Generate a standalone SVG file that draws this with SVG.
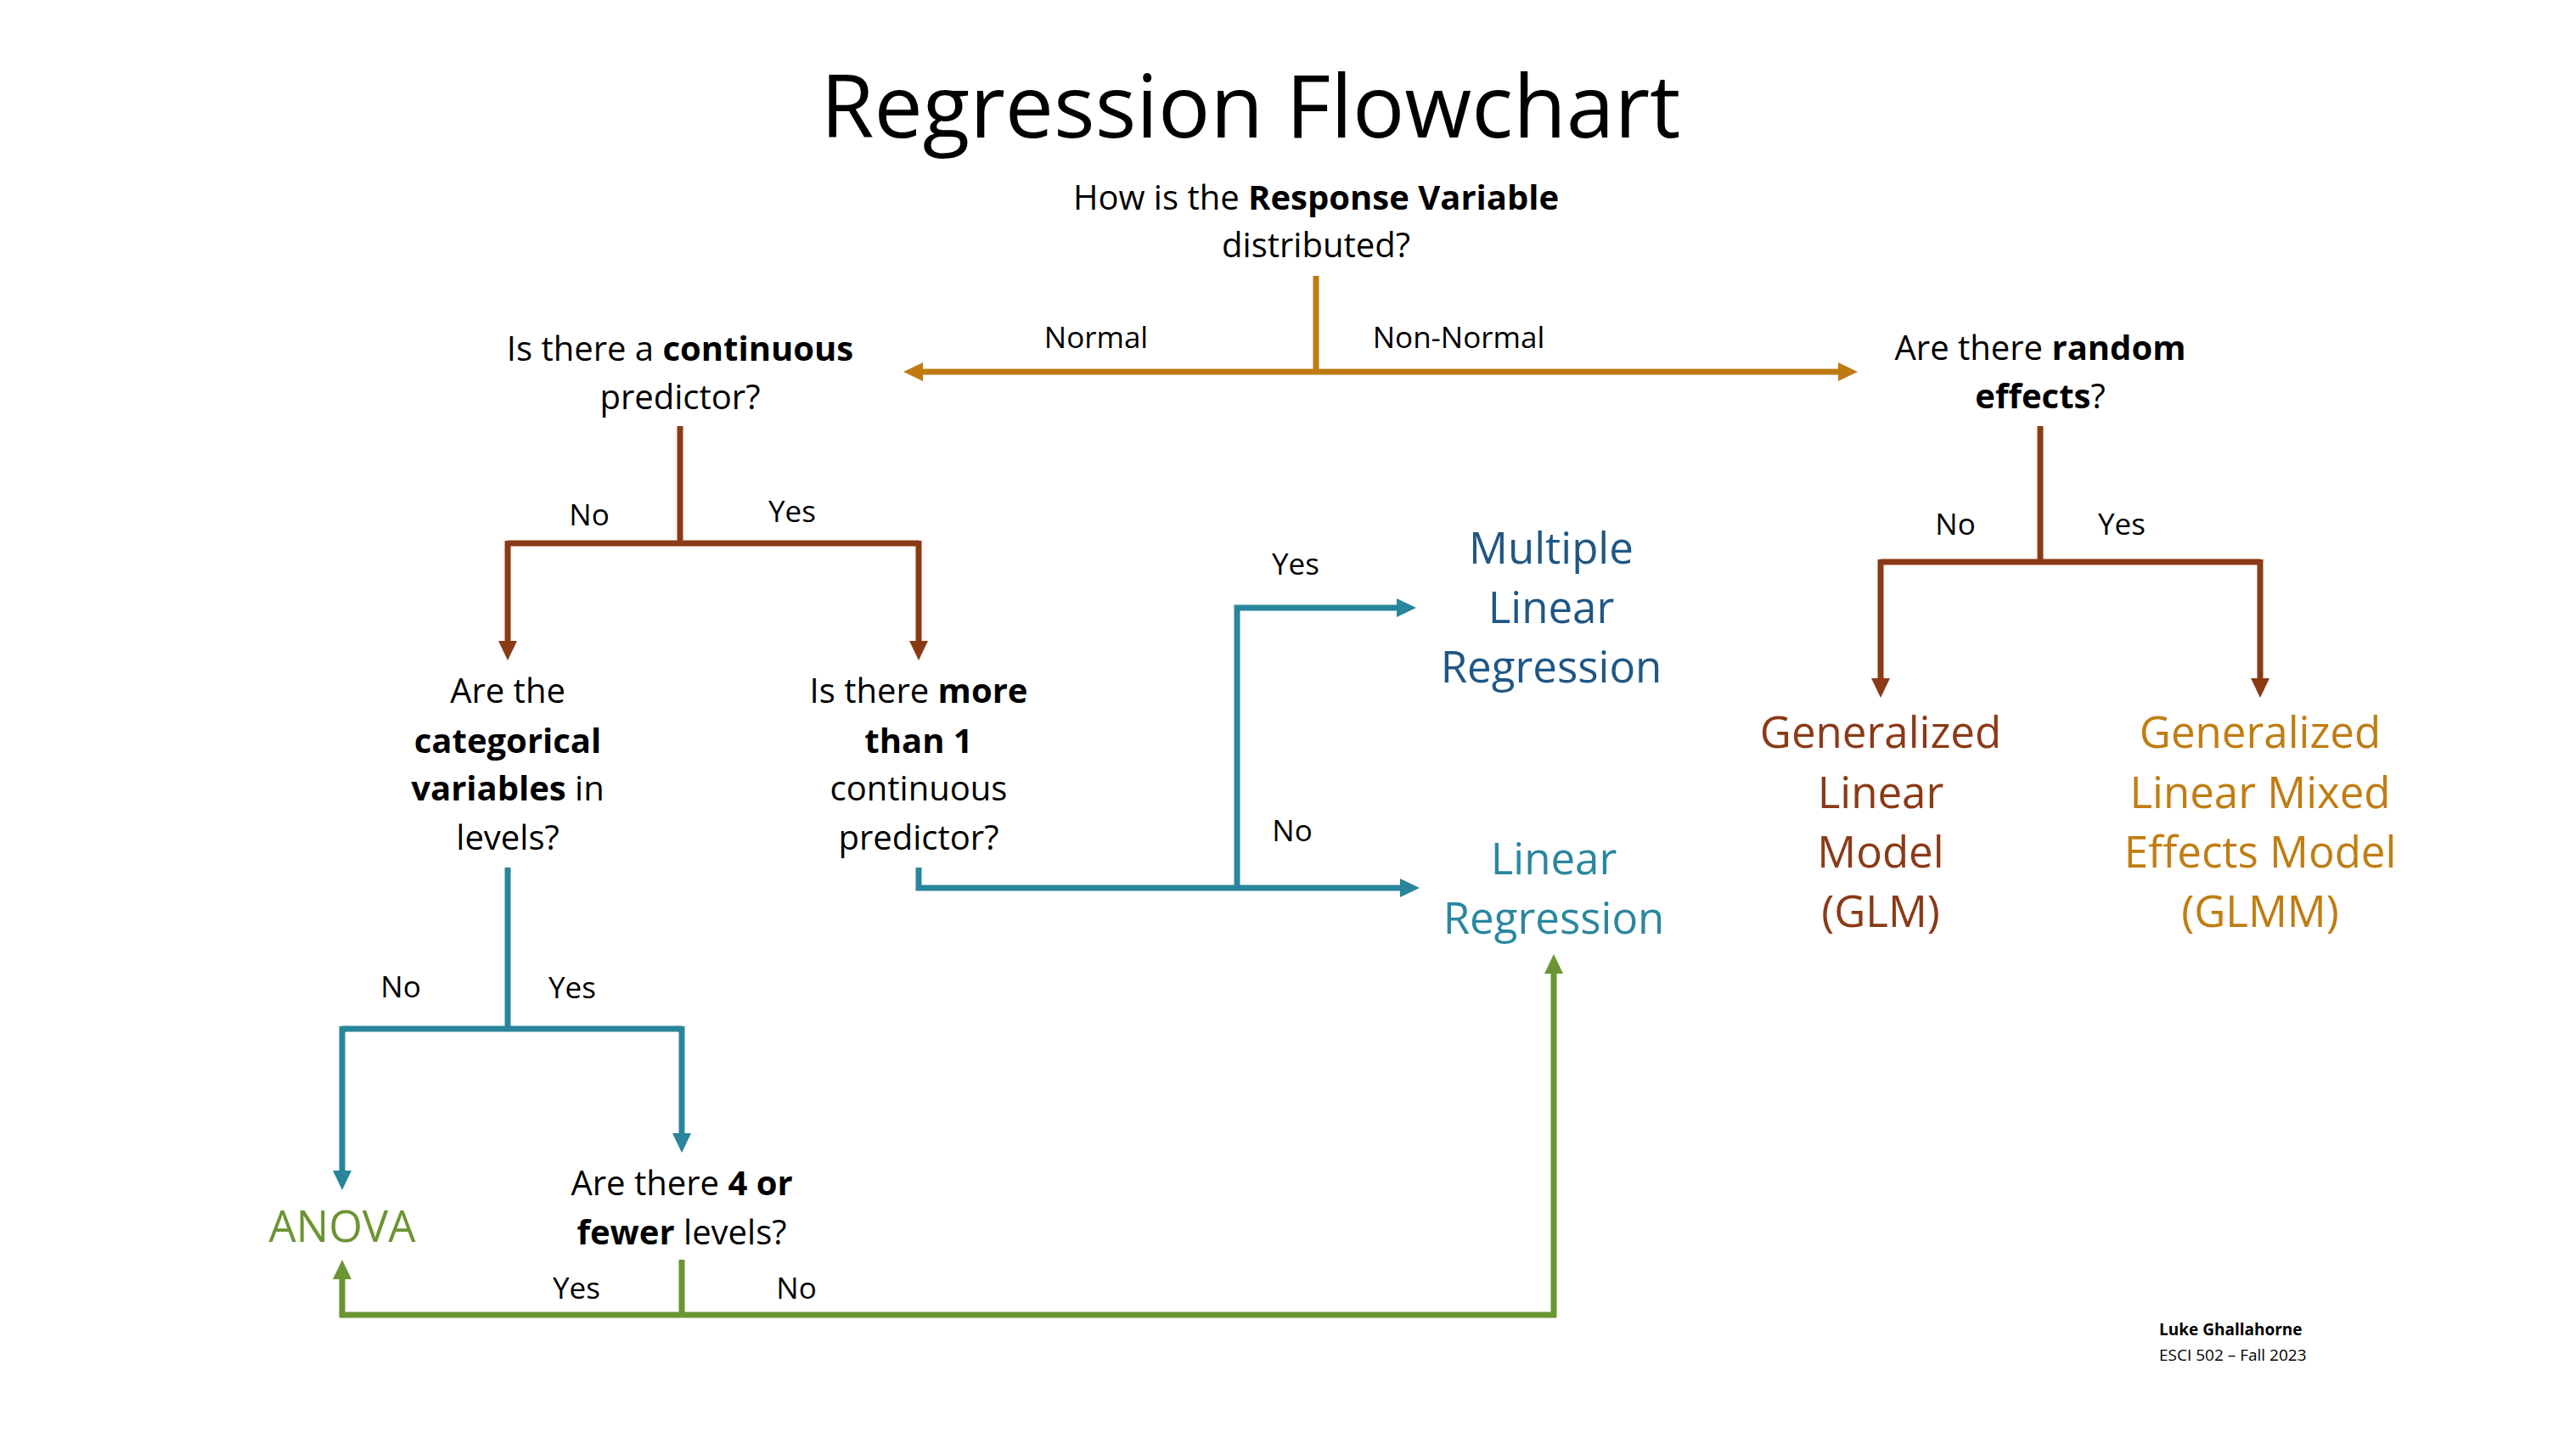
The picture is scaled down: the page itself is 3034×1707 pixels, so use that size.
<svg xmlns="http://www.w3.org/2000/svg" width="3034" height="1707" viewBox="0 0 3034 1707">
<style>
text { font-family: "Open Sans", "Noto Sans", "Liberation Sans", sans-serif; text-anchor: middle; fill: #000; }
.title { font-size: 102px; }
.q { font-size: 40px; }
.lbl { font-size: 35px; }
.res { font-size: 51px; }
.b { font-weight: bold; }
.foot { font-size: 19px; text-anchor: start; }
.ln { fill: none; stroke-width: 7; stroke-linejoin: miter; stroke-linecap: butt; }
.or { stroke: #BF7B12; }
.br { stroke: #8B3A16; }
.te { stroke: #28859B; }
.gr { stroke: #6B9432; }
</style>
<defs>
<marker id="aOr" viewBox="0 0 23 22" refX="0" refY="11" markerWidth="23" markerHeight="22" markerUnits="userSpaceOnUse" orient="auto"><path d="M0,0 L23,11 L0,22 z" fill="#BF7B12"/></marker>
<marker id="aBr" viewBox="0 0 23 22" refX="0" refY="11" markerWidth="23" markerHeight="22" markerUnits="userSpaceOnUse" orient="auto"><path d="M0,0 L23,11 L0,22 z" fill="#8B3A16"/></marker>
<marker id="aTe" viewBox="0 0 23 22" refX="0" refY="11" markerWidth="23" markerHeight="22" markerUnits="userSpaceOnUse" orient="auto"><path d="M0,0 L23,11 L0,22 z" fill="#28859B"/></marker>
<marker id="aGr" viewBox="0 0 23 22" refX="0" refY="11" markerWidth="23" markerHeight="22" markerUnits="userSpaceOnUse" orient="auto"><path d="M0,0 L23,11 L0,22 z" fill="#6B9432"/></marker>
</defs>
<rect width="3034" height="1707" fill="#fff"/>

<text class="title" x="1473" y="162">Regression Flowchart</text>

<g id="connectors">
  <path class="ln or" d="M1550 325 V438"/>
  <path class="ln or" d="M1550 438 H1087" marker-end="url(#aOr)"/>
  <path class="ln or" d="M1550 438 H2165" marker-end="url(#aOr)"/>

  <path class="ln br" d="M801 502 V640"/>
  <path class="ln br" d="M598 640 H1082"/>
  <path class="ln br" d="M598 637 V755" marker-end="url(#aBr)"/>
  <path class="ln br" d="M1082 637 V755" marker-end="url(#aBr)"/>

  <path class="ln br" d="M2403 502 V662"/>
  <path class="ln br" d="M2215 662 H2662"/>
  <path class="ln br" d="M2215 659 V799" marker-end="url(#aBr)"/>
  <path class="ln br" d="M2662 659 V799" marker-end="url(#aBr)"/>

  <path class="ln te" d="M598 1022 V1212"/>
  <path class="ln te" d="M403 1212 H803"/>
  <path class="ln te" d="M403 1209 V1379" marker-end="url(#aTe)"/>
  <path class="ln te" d="M803 1209 V1335" marker-end="url(#aTe)"/>

  <path class="ln te" d="M1082 1022 V1046 H1649" marker-end="url(#aTe)"/>
  <path class="ln te" d="M1457 1046 V716 H1645" marker-end="url(#aTe)"/>

  <path class="ln gr" d="M803 1484 V1549"/>
  <path class="ln gr" d="M803 1549 H403 V1507" marker-end="url(#aGr)"/>
  <path class="ln gr" d="M803 1549 H1830 V1147" marker-end="url(#aGr)"/>

  <text class="lbl" x="1291" y="410">Normal</text>
  <text class="lbl" x="1718" y="410">Non-Normal</text>
  <text class="lbl" x="694" y="619">No</text>
  <text class="lbl" x="933" y="615">Yes</text>
  <text class="lbl" x="2303" y="630">No</text>
  <text class="lbl" x="2499" y="630">Yes</text>
  <text class="lbl" x="472" y="1175">No</text>
  <text class="lbl" x="674" y="1176">Yes</text>
  <text class="lbl" x="1526" y="677">Yes</text>
  <text class="lbl" x="1522" y="991">No</text>
  <text class="lbl" x="679" y="1530">Yes</text>
  <text class="lbl" x="938" y="1530">No</text>
</g>

<g id="response">
  <text class="q" x="1550" y="247">How is the <tspan class="b">Response Variable</tspan></text>
  <text class="q" x="1550" y="303">distributed?</text>
</g>

<g id="continuous">
  <text class="q" x="801" y="425">Is there a <tspan class="b">continuous</tspan></text>
  <text class="q" x="801" y="482">predictor?</text>
</g>

<g id="random">
  <text class="q" x="2403" y="424">Are there <tspan class="b">random</tspan></text>
  <text class="q" x="2403" y="481"><tspan class="b">effects</tspan>?</text>
</g>

<g id="categorical">
  <text class="q" x="598" y="828">Are the</text>
  <text class="q b" x="598" y="887">categorical</text>
  <text class="q" x="598" y="943"><tspan class="b">variables</tspan> in</text>
  <text class="q" x="598" y="1001">levels?</text>
</g>

<g id="morethan1">
  <text class="q" x="1082" y="828">Is there <tspan class="b">more</tspan></text>
  <text class="q b" x="1082" y="887">than 1</text>
  <text class="q" x="1082" y="943">continuous</text>
  <text class="q" x="1082" y="1001">predictor?</text>
</g>

<g id="fourfewer">
  <text class="q" x="803" y="1408">Are there <tspan class="b">4 or</tspan></text>
  <text class="q" x="803" y="1466"><tspan class="b">fewer</tspan> levels?</text>
</g>

<g id="mlr">
  <text class="res" x="1827" y="664" style="fill:#1F5785">Multiple</text>
  <text class="res" x="1827" y="734" style="fill:#1F5785">Linear</text>
  <text class="res" x="1827" y="804" style="fill:#1F5785">Regression</text>
</g>

<g id="lr">
  <text class="res" x="1830" y="1030" style="fill:#2A87A0">Linear</text>
  <text class="res" x="1830" y="1100" style="fill:#2A87A0">Regression</text>
</g>

<g id="glm">
  <text class="res" x="2215" y="881" style="fill:#8B3A16">Generalized</text>
  <text class="res" x="2215" y="952" style="fill:#8B3A16">Linear</text>
  <text class="res" x="2215" y="1022" style="fill:#8B3A16">Model</text>
  <text class="res" x="2215" y="1092" style="fill:#8B3A16">(GLM)</text>
</g>

<g id="glmm">
  <text class="res" x="2662" y="881" style="fill:#C07D12">Generalized</text>
  <text class="res" x="2662" y="952" style="fill:#C07D12">Linear Mixed</text>
  <text class="res" x="2662" y="1022" style="fill:#C07D12">Effects Model</text>
  <text class="res" x="2662" y="1092" style="fill:#C07D12">(GLMM)</text>
</g>

<g id="anova">
  <text class="res" x="403" y="1463" style="fill:#6B9432">ANOVA</text>
</g>

<g id="footer">
  <text class="foot b" x="2543" y="1573">Luke Ghallahorne</text>
  <text class="foot" x="2543" y="1603">ESCI 502 – Fall 2023</text>
</g>
</svg>
